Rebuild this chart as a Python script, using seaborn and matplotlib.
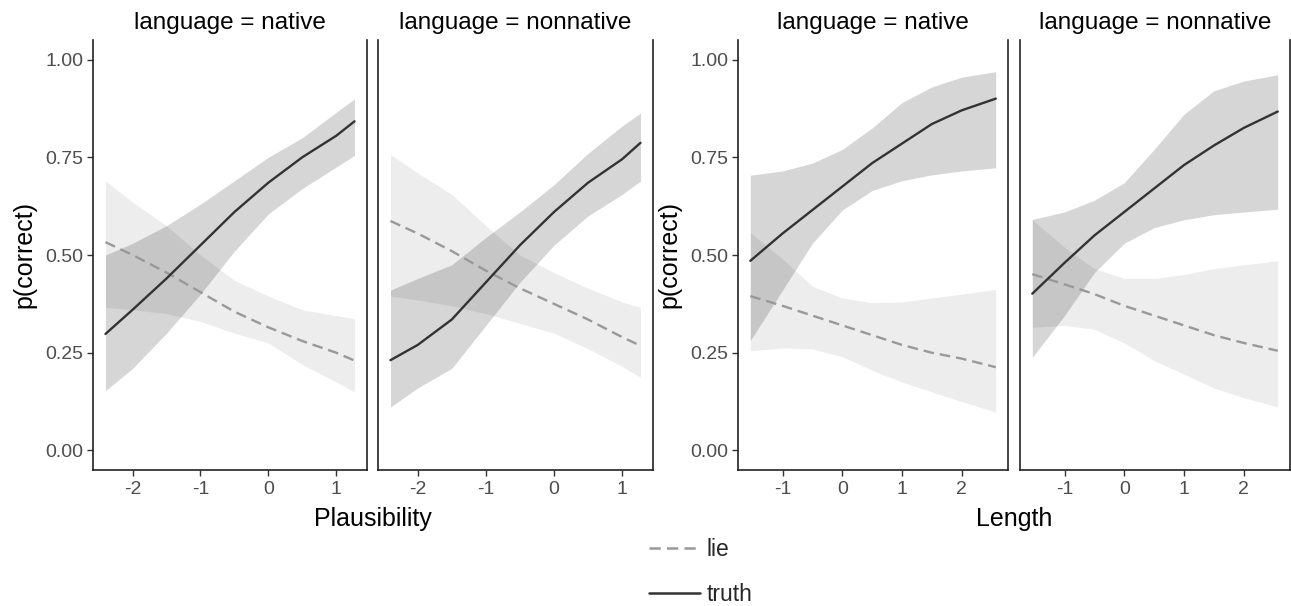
import numpy as np
import pandas as pd
import seaborn as sns
import matplotlib
matplotlib.use("Agg")
import matplotlib.pyplot as plt

# x grids (centred predictors)
plaus_x = [-2.4, -2.0, -1.5, -1.0, -0.5, 0.0, 0.5, 1.0, 1.27]
length_x = [-1.54, -1.0, -0.5, 0.0, 0.5, 1.0, 1.5, 2.0, 2.57]

# Plausibility, native
pn_truth = [0.298, 0.36, 0.44, 0.525, 0.61, 0.685, 0.75, 0.805, 0.842]
pn_truth_lo = [0.153, 0.21, 0.30, 0.40, 0.51, 0.605, 0.67, 0.725, 0.755]
pn_truth_hi = [0.50, 0.53, 0.575, 0.63, 0.69, 0.75, 0.80, 0.865, 0.90]
pn_lie = [0.533, 0.50, 0.455, 0.405, 0.355, 0.315, 0.28, 0.25, 0.23]
pn_lie_lo = [0.366, 0.36, 0.35, 0.33, 0.30, 0.275, 0.22, 0.175, 0.149]
pn_lie_hi = [0.69, 0.635, 0.575, 0.50, 0.435, 0.395, 0.36, 0.345, 0.337]

# Plausibility, nonnative
pnn_truth = [0.231, 0.27, 0.335, 0.43, 0.525, 0.61, 0.685, 0.745, 0.787]
pnn_truth_lo = [0.111, 0.16, 0.21, 0.32, 0.43, 0.525, 0.60, 0.655, 0.689]
pnn_truth_hi = [0.41, 0.44, 0.475, 0.545, 0.61, 0.68, 0.76, 0.83, 0.863]
pnn_lie = [0.587, 0.555, 0.51, 0.46, 0.415, 0.375, 0.335, 0.29, 0.268]
pnn_lie_lo = [0.395, 0.385, 0.37, 0.35, 0.325, 0.30, 0.26, 0.215, 0.187]
pnn_lie_hi = [0.757, 0.71, 0.655, 0.575, 0.50, 0.455, 0.415, 0.38, 0.366]

# Length, native
ln_truth = [0.485, 0.555, 0.615, 0.675, 0.735, 0.785, 0.835, 0.87, 0.90]
ln_truth_lo = [0.281, 0.41, 0.53, 0.615, 0.665, 0.69, 0.705, 0.715, 0.723]
ln_truth_hi = [0.704, 0.715, 0.735, 0.77, 0.825, 0.89, 0.93, 0.955, 0.969]
ln_lie = [0.395, 0.37, 0.345, 0.32, 0.295, 0.27, 0.25, 0.235, 0.213]
ln_lie_lo = [0.255, 0.262, 0.26, 0.24, 0.205, 0.175, 0.15, 0.125, 0.098]
ln_lie_hi = [0.557, 0.49, 0.42, 0.39, 0.378, 0.38, 0.39, 0.40, 0.412]

# Length, nonnative
lnn_truth = [0.401, 0.48, 0.55, 0.61, 0.67, 0.73, 0.78, 0.825, 0.867]
lnn_truth_lo = [0.238, 0.345, 0.455, 0.53, 0.57, 0.59, 0.603, 0.61, 0.617]
lnn_truth_hi = [0.591, 0.61, 0.64, 0.685, 0.77, 0.86, 0.92, 0.945, 0.961]
lnn_lie = [0.451, 0.425, 0.40, 0.37, 0.345, 0.32, 0.295, 0.275, 0.255]
lnn_lie_lo = [0.315, 0.32, 0.31, 0.275, 0.23, 0.195, 0.16, 0.135, 0.111]
lnn_lie_hi = [0.59, 0.52, 0.465, 0.44, 0.44, 0.45, 0.465, 0.475, 0.485]

y_ticks = [0.0, 0.25, 0.5, 0.75, 1.0]
y_tick_labels = ["0.00", "0.25", "0.50", "0.75", "1.00"]
plaus_ticks = [-2, -1, 0, 1]
length_ticks = [-1, 0, 1, 2]

rows = []
panel_data = [
    ("Plausibility", "native", plaus_x, pn_truth, pn_truth_lo, pn_truth_hi, pn_lie, pn_lie_lo, pn_lie_hi),
    ("Plausibility", "nonnative", plaus_x, pnn_truth, pnn_truth_lo, pnn_truth_hi, pnn_lie, pnn_lie_lo, pnn_lie_hi),
    ("Length", "native", length_x, ln_truth, ln_truth_lo, ln_truth_hi, ln_lie, ln_lie_lo, ln_lie_hi),
    ("Length", "nonnative", length_x, lnn_truth, lnn_truth_lo, lnn_truth_hi, lnn_lie, lnn_lie_lo, lnn_lie_hi),
]
for pred, lang, xs, t, tlo, thi, l, llo, lhi in panel_data:
    for i, x in enumerate(xs):
        rows.append(dict(predictor=pred, language=lang, veracity="truth", x=x, fit=t[i], lo=tlo[i], hi=thi[i]))
        rows.append(dict(predictor=pred, language=lang, veracity="lie", x=x, fit=l[i], lo=llo[i], hi=lhi[i]))
df = pd.DataFrame(rows)

sns.set_theme(style="white")
plt.rcParams["font.family"] = ["Liberation Sans", "DejaVu Sans"]
plt.rcParams["axes.unicode_minus"] = False

W, H = 1291, 606
fig = plt.figure(figsize=(W / 100, H / 100), dpi=100)
top, bottom = 40, 470
boxes = [(93, 367), (378, 653), (738, 1008), (1020, 1290)]

palette = {"lie": "#999999", "truth": "#333333"}
dashes = {"lie": (4.5, 2.5), "truth": ""}
fill_alpha = {"lie": 0.07, "truth": 0.16}

axes = []
for k, ((pred, lang, *_), (l, r)) in enumerate(zip(panel_data, boxes)):
    ax = fig.add_axes([l / W, (H - bottom) / H, (r - l) / W, (bottom - top) / H])
    axes.append(ax)
    sub = df[(df.predictor == pred) & (df.language == lang)]
    for ver in ["truth", "lie"]:
        s = sub[sub.veracity == ver]
        ax.fill_between(s.x, s.lo, s.hi, color="black", alpha=fill_alpha[ver], lw=0)
    sns.lineplot(data=sub, x="x", y="fit", hue="veracity", style="veracity",
                 hue_order=["lie", "truth"], style_order=["lie", "truth"],
                 palette=palette, dashes=dashes, lw=1.7, ax=ax, legend=(k == 0))

    xs = sub.x
    span = xs.max() - xs.min()
    ax.set_xlim(xs.min() - 0.05 * span, xs.max() + 0.05 * span)
    ax.set_ylim(-0.05, 1.05)
    ticks = plaus_ticks if pred == "Plausibility" else length_ticks
    ax.set_xticks(ticks)
    ax.set_xticklabels([str(t) for t in ticks])
    ax.set_xlabel("")
    if lang == "native":
        ax.set_yticks(y_ticks)
        ax.set_yticklabels(y_tick_labels)
        ax.set_ylabel("p(correct)", fontsize=18, color="black", labelpad=6)
        ax.tick_params(axis="y", length=4, width=1, color="#333333", labelsize=14,
                       labelcolor="#4d4d4d", left=True, pad=3)
    else:
        ax.set_yticks([])
        ax.set_ylabel("")
    ax.tick_params(axis="x", length=4, width=1, color="#333333", labelsize=14,
                   labelcolor="#4d4d4d", bottom=True, pad=4)
    ax.set_title(f"language = {lang}", fontsize=17.5, color="black", pad=8)
    for side in ["left", "right", "bottom"]:
        ax.spines[side].set_visible(True)
        ax.spines[side].set_color("#222222")
        ax.spines[side].set_linewidth(1.2)
    ax.spines["top"].set_visible(False)
    ax.grid(False)

# group x labels
for a, b, name in [(axes[0], axes[1], "Plausibility"), (axes[2], axes[3], "Length")]:
    cx = (a.get_position().x0 + b.get_position().x1) / 2
    fig.text(cx, 1 - 519 / H, name, ha="center", va="center", fontsize=18, color="black")

handles, labels = axes[0].get_legend_handles_labels()
axes[0].get_legend().remove()
for h in handles:
    h.set_linewidth(1.8)
fig.legend(handles, labels, loc="center", bbox_to_anchor=(0.543, 1 - 572 / H),
           frameon=False, fontsize=16.5, handlelength=2.2, labelspacing=0.95, handletextpad=0.3)

fig.savefig("out.png", dpi=100)
